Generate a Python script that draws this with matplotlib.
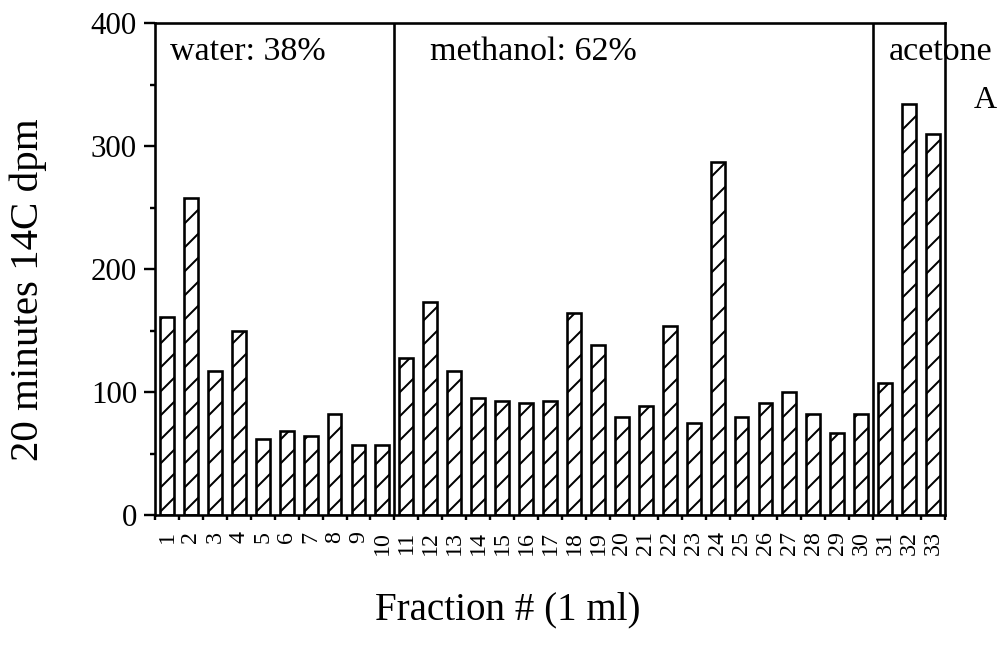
import matplotlib
matplotlib.use('Agg')
import matplotlib.pyplot as plt
import numpy as np
from matplotlib.ticker import FixedLocator, MultipleLocator

# ---- data ----
fractions = list(range(1, 34))
dpm = [161, 258, 117, 150, 62, 68, 64, 82, 57, 57,
       128, 173, 117, 95, 93, 91, 93, 164, 138, 80,
       89, 154, 75, 287, 80, 91, 100, 82, 67, 82,
       107, 334, 310]
y_ticks = [0, 100, 200, 300, 400]
region_labels = ["water: 38%", "methanol: 62%", "acetone"]
region_bounds = [10.5, 30.5]
panel_label = "A"
x_label = "Fraction # (1 ml)"
y_label = "20 minutes 14C dpm"

DPI = 144
plt.rcParams['font.family'] = ['Liberation Serif', 'DejaVu Serif']
plt.rcParams['hatch.linewidth'] = 1.0
plt.rcParams['hatch.color'] = 'black'

fig = plt.figure(figsize=(1003 / DPI, 645 / DPI), dpi=DPI)
ax = fig.add_axes([155 / 1003, 1 - 515 / 645, 790 / 1003, 492 / 645])

ax.bar(fractions, dpm, width=0.58, color='white', edgecolor='black',
       linewidth=1.3, hatch='//')
ax.set_xlim(0.5, 33.5)
ax.set_ylim(0, 400)

for b in region_bounds:
    ax.axvline(b, color='black', lw=1.3)

for s in ax.spines.values():
    s.set_linewidth(1.3)
    s.set_color('black')

ax.set_xticks(fractions)
ax.set_xticklabels([str(f) for f in fractions], rotation=90, fontsize=12)
ax.tick_params(axis='x', which='major', length=0, pad=8)
ax.xaxis.set_minor_locator(FixedLocator(np.arange(0.5, 34, 1)))
ax.tick_params(axis='x', which='minor', length=2.5, width=1.2, direction='out')

ax.set_yticks(y_ticks)
ax.set_yticklabels([str(t) for t in y_ticks], fontsize=15.5)
ax.yaxis.set_minor_locator(MultipleLocator(50))
ax.tick_params(axis='y', which='major', length=5.5, width=1.2, pad=3.5)
ax.tick_params(axis='y', which='minor', length=2.5, width=1.2)

region_x = [1.12, 11.97, 31.16]
for lab, xx in zip(region_labels, region_x):
    ax.text(xx, 370, lab, fontsize=17, va='baseline', ha='left')
ax.text(34.7, 331, panel_label, fontsize=16, va='baseline', ha='left')

fig.text(28 / 1003, 1 - 290 / 645, y_label, rotation=90, fontsize=20.5,
         ha='center', va='center')
fig.text(508 / 1003, 1 - 610 / 645, x_label, fontsize=19.5,
         ha='center', va='center')

fig.savefig('out.png', dpi=DPI)
